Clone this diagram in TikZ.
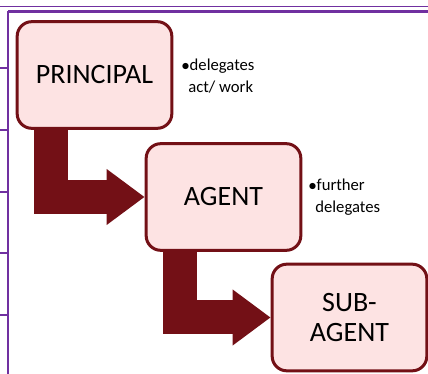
\documentclass[tikz,border=0pt]{standalone}
\usepackage{fontspec}
\setmainfont{Carlito}
\usetikzlibrary{arrows.meta}
\definecolor{maroon}{HTML}{731016}
\definecolor{blush}{HTML}{FDE3E3}
\definecolor{frame}{HTML}{7030A0}
\tikzset{
  party/.style={draw=maroon, fill=blush, line width=2.25pt, rounded corners=11pt,
    minimum width=116pt, minimum height=80pt, align=center, font=\fontsize{21}{23}\selectfont},
  note/.style={anchor=west, align=left, font=\fontsize{12.5}{16}\selectfont},
  handoff/.style={draw=maroon, line width=25.5pt, line join=miter,
    -{Triangle[width=40pt,length=28.5pt]}}
}

\begin{document}
\begin{tikzpicture}[x=0.75pt,y=0.75pt]

  \useasboundingbox (0,0) rectangle (428,374);

  % frame of the slide
  \draw[frame, line width=1.1pt] (0,367.5) -- (428,367.5);
  \draw[frame, line width=1.9pt] (8,362.5) -- (428,362.5);
  \draw[frame, line width=1.9pt] (8,362.5) -- (8,0);
  \foreach \y in {306,244,182,121,59}
    \draw[frame, line width=0.8pt] (0,\y) -- (8,\y);

  % parties
  \node[party] (principal) at (94.5,299) {PRINCIPAL};
  \node[party] (agent) at (223.5,177) {AGENT};
  \node[party] (subagent) at (349.5,56.5) {SUB-\\AGENT};

  % delegation arrows
  \draw[handoff] ([xshift=-33pt]principal.south) |- (agent.west);
  \draw[handoff] ([xshift=-33pt]agent.south) |- (subagent.west);

  % notes
  \node[note] (acts) at (177,298) {$\bullet$delegates\\\hspace{5pt}act/ work};
  \node[note] (further) at (304,177) {$\bullet$further\\\hspace{5pt}delegates};

\end{tikzpicture}
\end{document}
